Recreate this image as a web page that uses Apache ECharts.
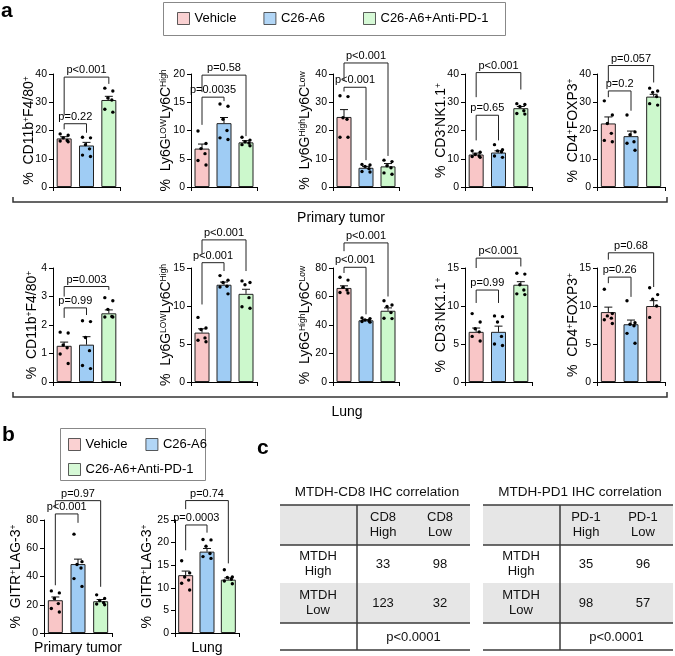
<!DOCTYPE html>
<html>
<head>
<meta charset="utf-8">
<script src="https://cdn.jsdelivr.net/npm/echarts@6/dist/echarts.min.js"></script>
<style>
html, body { margin: 0; padding: 0; background: #fff; }
#main { width: 675px; height: 656px; }
</style>
</head>
<body>
<div id="main"></div>
<script>
// groups + colours
const groups = ['Vehicle', 'C26-A6', 'C26-A6+Anti-PD-1'];
const groupColours = ['#F9C6C7', '#9FCCF4', '#CCF8CC'];
const font = "'Liberation Sans', Arial, sans-serif";

// ---- a: primary tumor ----
const ptCd11bMean = [17.2, 14.7, 30.8];
const ptCd11bSem = [0.6, 1.1, 1.3];
const ptCd11bDots = [[18.8, 18.3, 17.4, 16.5, 16.3, 16.0], [17.6, 17.4, 15.0, 13.5, 11.3, 10.8], [35.0, 34.0, 31.5, 30.8, 27.5, 26.5]];
const ptCd11bBrackets = [[0, 1, 22.4, 20.4, 19.2], [0, 2, 38.9, 25.3, 36.5]];
const ptCd11bP = ['p=0.22', 'p<0.001'];

const ptLy6cHighMean = [6.8, 11.3, 7.9];
const ptLy6cHighSem = [0.8, 1.0, 0.3];
const ptLy6cHighDots = [[9.9, 7.7, 6.8, 5.9, 4.7, 3.9], [14.7, 14.3, 12.0, 10.0, 8.7, 8.4], [8.8, 8.3, 8.0, 7.8, 7.5, 7.3]];
const ptLy6cHighBrackets = [[0, 1, 15.9, 11.0, 15.2], [0, 2, 19.8, 16.8, 9.0]];
const ptLy6cHighP = ['p=0.0035', 'p=0.58'];

const ptLy6cLowMean = [24.8, 6.8, 7.3];
const ptLy6cLowSem = [2.6, 0.5, 1.0];
const ptLy6cLowDots = [[32.3, 32.0, 24.5, 24.0, 17.6, 17.6], [8.0, 7.8, 7.3, 6.5, 5.5, 5.3], [9.5, 9.0, 7.5, 6.8, 5.0, 4.5]];
const ptLy6cLowBrackets = [[0, 1, 35.3, 33.8, 9.5], [0, 2, 43.9, 37.5, 11.0]];
const ptLy6cLowP = ['p<0.001', 'p<0.001'];

const ptNkMean = [11.5, 12.2, 27.9];
const ptNkSem = [0.5, 0.6, 0.6];
const ptNkDots = [[12.8, 12.3, 11.5, 11.0, 10.8, 10.5], [15.0, 13.2, 12.8, 12.5, 11.0, 10.5], [29.5, 29.2, 28.5, 27.0, 26.0, 25.8]];
const ptNkBrackets = [[0, 1, 25.4, 16.5, 16.5], [0, 2, 40.5, 31.8, 34.5]];
const ptNkP = ['p=0.65', 'p<0.001'];

const ptFoxp3Mean = [22.5, 18.0, 32.0];
const ptFoxp3Sem = [2.3, 1.8, 0.8];
const ptFoxp3Dots = [[30.5, 25.5, 22.5, 19.0, 16.5, 16.0], [25.5, 19.5, 18.5, 16.0, 15.5, 13.0], [35.0, 34.0, 33.5, 32.0, 29.5, 29.0]];
const ptFoxp3Brackets = [[0, 1, 34.0, 31.8, 27.0], [0, 2, 43.0, 37.0, 37.0]];
const ptFoxp3P = ['p=0.2', 'p=0.057'];

// ---- a: lung ----
const luCd11bMean = [1.27, 1.31, 2.41];
const luCd11bSem = [0.13, 0.28, 0.12];
const luCd11bDots = [[1.75, 1.72, 1.3, 1.2, 0.98, 0.65], [2.15, 2.12, 1.56, 1.1, 0.58, 0.47], [2.96, 2.85, 2.55, 2.3, 2.28, 2.28]];
const luCd11bBrackets = [[0, 1, 2.6, 2.25, 2.35], [0, 2, 3.35, 3.0, 3.23]];
const luCd11bP = ['p=0.99', 'p=0.003'];

const luLy6cHighMean = [6.5, 12.8, 11.6];
const luLy6cHighSem = [0.5, 0.35, 0.6];
const luLy6cHighDots = [[8.5, 7.1, 6.9, 5.8, 5.5, 5.3], [14.0, 13.4, 13.1, 12.6, 12.5, 11.6], [13.3, 13.1, 12.8, 11.1, 9.9, 9.7]];
const luLy6cHighBrackets = [[0, 1, 15.7, 10.2, 14.6], [0, 2, 18.7, 16.8, 14.6]];
const luLy6cHighP = ['p<0.001', 'p<0.001'];

const luLy6cLowMean = [66.0, 43.3, 50.0];
const luLy6cLowSem = [1.5, 0.5, 2.0];
const luLy6cLowDots = [[73.5, 71.5, 66.5, 64.5, 62.8, 62.5], [45.0, 44.5, 43.5, 43.0, 42.5, 42.0], [57.0, 54.0, 53.0, 48.7, 44.7, 44.5]];
const luLy6cLowBrackets = [[0, 1, 80.5, 76.5, 47.5], [0, 2, 97.6, 91.8, 60.0]];
const luLy6cLowP = ['p<0.001', 'p<0.001'];

const luNkMean = [6.6, 6.6, 12.8];
const luNkSem = [0.5, 0.75, 0.4];
const luNkDots = [[9.0, 7.9, 7.0, 6.6, 6.0, 5.4], [8.7, 8.6, 7.9, 6.0, 5.0, 4.8], [14.3, 14.2, 12.8, 12.1, 11.6, 11.5]];
const luNkBrackets = [[0, 1, 12.1, 10.4, 10.4], [0, 2, 16.3, 15.0, 15.2]];
const luNkP = ['p=0.99', 'p<0.001'];

const luFoxp3Mean = [9.2, 7.6, 10.0];
const luFoxp3Sem = [0.65, 0.55, 0.7];
const luFoxp3Dots = [[12.2, 9.0, 8.7, 8.4, 8.2, 7.7], [10.7, 7.8, 7.6, 7.4, 6.4, 5.1], [12.4, 11.5, 10.9, 10.0, 8.5]];
const luFoxp3Brackets = [[0, 1, 13.8, 13.0, 11.2], [0, 2, 17.0, 16.1, 12.5]];
const luFoxp3P = ['p=0.26', 'p=0.68'];

// ---- b ----
const gitrPtMean = [23.2, 48.8, 22.5];
const gitrPtSem = [2.3, 3.5, 1.2];
const gitrPtDots = [[29.8, 28.4, 24.4, 20.8, 17.3, 14.9], [70.0, 50.5, 48.5, 46.0, 38.5, 33.0], [27.0, 24.5, 23.0, 21.5, 20.5, 20.0]];
const gitrPtBrackets = [[0, 1, 84.3, 33.8, 78.0], [0, 2, 93.7, 88.3, 32.7]];
const gitrPtP = ['p<0.001', 'p=0.97'];

const gitrLuMean = [12.8, 18.0, 11.8];
const gitrLuSem = [0.9, 0.7, 0.4];
const gitrLuDots = [[16.0, 13.3, 12.4, 11.7, 11.0, 9.5], [20.7, 20.6, 19.2, 17.6, 16.9, 16.5], [14.0, 12.4, 12.3, 11.9, 11.5, 10.9]];
const gitrLuBrackets = [[0, 1, 23.9, 18.3, 22.2], [0, 2, 29.3, 27.4, 15.4]];
const gitrLuP = ['p=0.0003', 'p=0.74'];

// tick labels
const ticks40 = [0, 10, 20, 30, 40];
const ticks20 = [0, 5, 10, 15, 20];
const ticks15 = [0, 5, 10, 15];
const ticks4 = [0, 1, 2, 3, 4];
const ticks80 = [0, 20, 40, 60, 80];
const ticks25 = [0, 5, 10, 15, 20, 25];

// ---- c: tables ----
const rowHeads = ['MTDH\nHigh', 'MTDH\nLow'];
const cd8Title = 'MTDH-CD8 IHC correlation';
const cd8Heads = ['CD8\nHigh', 'CD8\nLow'];
const cd8Counts = [[33, 98], [123, 32]];
const cd8P = 'p<0.0001';
const pd1Title = 'MTDH-PD1 IHC correlation';
const pd1Heads = ['PD-1\nHigh', 'PD-1\nLow'];
const pd1Counts = [[35, 96], [98, 57]];
const pd1P = 'p<0.0001';

// dot spread (px), by rank within a group
const jitterPx = [-4, 4, -1, 3, -4, 4];

const lefts = [53, 191, 333, 465, 597];
const panels = [
  { name: '%  CD11b{s|+}F4/80{s|+}', mean: ptCd11bMean, sem: ptCd11bSem, dots: ptCd11bDots, br: ptCd11bBrackets, p: ptCd11bP, ticks: ticks40, left: lefts[0], top: 74, width: 67, height: 113, gap: 17 },
  { name: '%  Ly6G{s|LOW}Ly6C{s|High}', mean: ptLy6cHighMean, sem: ptLy6cHighSem, dots: ptLy6cHighDots, br: ptLy6cHighBrackets, p: ptLy6cHighP, ticks: ticks20, left: lefts[1], top: 74, width: 66, height: 113, gap: 18 },
  { name: '%  Ly6G{s|High}Ly6C{s|Low}', mean: ptLy6cLowMean, sem: ptLy6cLowSem, dots: ptLy6cLowDots, br: ptLy6cLowBrackets, p: ptLy6cLowP, ticks: ticks40, left: lefts[2], top: 74, width: 66, height: 113, gap: 21 },
  { name: '%  CD3{s|-}NK1.1{s|+}', mean: ptNkMean, sem: ptNkSem, dots: ptNkDots, br: ptNkBrackets, p: ptNkP, ticks: ticks40, left: lefts[3], top: 74, width: 67, height: 113, gap: 17 },
  { name: '%  CD4{s|+}FOXP3{s|+}', mean: ptFoxp3Mean, sem: ptFoxp3Sem, dots: ptFoxp3Dots, br: ptFoxp3Brackets, p: ptFoxp3P, ticks: ticks40, left: lefts[4], top: 74, width: 68, height: 113, gap: 17 },
  { name: '%  CD11b{s|+}F4/80{s|+}', mean: luCd11bMean, sem: luCd11bSem, dots: luCd11bDots, br: luCd11bBrackets, p: luCd11bP, ticks: ticks4, left: lefts[0], top: 268, width: 67, height: 114, gap: 14 },
  { name: '%  Ly6G{s|LOW}Ly6C{s|High}', mean: luLy6cHighMean, sem: luLy6cHighSem, dots: luLy6cHighDots, br: luLy6cHighBrackets, p: luLy6cHighP, ticks: ticks15, left: lefts[1], top: 268, width: 66, height: 114, gap: 18 },
  { name: '%  Ly6G{s|High}Ly6C{s|Low}', mean: luLy6cLowMean, sem: luLy6cLowSem, dots: luLy6cLowDots, br: luLy6cLowBrackets, p: luLy6cLowP, ticks: ticks80, left: lefts[2], top: 268, width: 66, height: 114, gap: 21 },
  { name: '%  CD3{s|-}NK1.1{s|+}', mean: luNkMean, sem: luNkSem, dots: luNkDots, br: luNkBrackets, p: luNkP, ticks: ticks15, left: lefts[3], top: 268, width: 67, height: 114, gap: 17 },
  { name: '%  CD4{s|+}FOXP3{s|+}', mean: luFoxp3Mean, sem: luFoxp3Sem, dots: luFoxp3Dots, br: luFoxp3Brackets, p: luFoxp3P, ticks: ticks15, left: lefts[4], top: 268, width: 68, height: 114, gap: 17, fills: [0, 1, 0] },
  { name: '%  GITR{s|+}LAG-3{s|+}', mean: gitrPtMean, sem: gitrPtSem, dots: gitrPtDots, br: gitrPtBrackets, p: gitrPtP, ticks: ticks80, left: 44, top: 520, width: 68, height: 113, gap: 21, xName: 'Primary tumor' },
  { name: '%  GITR{s|+}LAG-3{s|+}', mean: gitrLuMean, sem: gitrLuSem, dots: gitrLuDots, br: gitrLuBrackets, p: gitrLuP, ticks: ticks25, left: 175, top: 520, width: 64, height: 113, gap: 21, xName: 'Lung' }
];

function errorBarItem(params, api) {
  const x = api.value(0), m = api.value(1), s = api.value(2);
  const a = api.coord([x, m]), b = api.coord([x, m + s]);
  const style = { stroke: '#111', lineWidth: 1, fill: null };
  return { type: 'group', children: [
    { type: 'line', shape: { x1: a[0], y1: a[1], x2: b[0], y2: b[1] }, style: style },
    { type: 'line', shape: { x1: b[0] - 4, y1: b[1], x2: b[0] + 4, y2: b[1] }, style: style }
  ] };
}

function dotItem(params, api) {
  const c = api.coord([api.value(0), api.value(1)]);
  return { type: 'circle', shape: { cx: c[0] + jitterPx[api.value(2)], cy: c[1], r: 1.7 }, style: { fill: '#000' } };
}

function bracketRenderer(labels) {
  return function (params, api) {
    const x1 = api.coord([api.value(0), 0])[0];
    const x2 = api.coord([api.value(1), 0])[0];
    const yTop = api.coord([0, api.value(2)])[1];
    const yL = api.coord([0, api.value(3)])[1];
    const yR = api.coord([0, api.value(4)])[1];
    return { type: 'group', children: [
      { type: 'polyline', shape: { points: [[x1, yL], [x1, yTop], [x2, yTop], [x2, yR]] }, style: { stroke: '#222', lineWidth: 1, fill: null } },
      { type: 'text', x: (x1 + x2) / 2, y: yTop - 1.5, style: { text: labels[params.dataIndex], fill: '#000', fontSize: 11, fontFamily: font, align: 'center', verticalAlign: 'bottom', textAlign: 'center', textVerticalAlign: 'bottom' } }
    ] };
  };
}

const grid = [], xAxis = [], yAxis = [], series = [];
panels.forEach(function (pn, k) {
  const fills = pn.fills || [0, 1, 2];
  grid.push({ left: pn.left, top: pn.top, width: pn.width, height: pn.height });
  xAxis.push({
    type: 'category', gridIndex: k, data: groups,
    axisLine: { lineStyle: { color: '#000', width: 1 } },
    axisTick: { show: true, length: 4, lineStyle: { color: '#000' } },
    axisLabel: { show: false },
    name: pn.xName || '', nameLocation: 'middle', nameGap: 8, nameMoveOverlap: false,
    nameTextStyle: { fontSize: 14, color: '#000', fontFamily: font, verticalAlign: 'top' }
  });
  const t = pn.ticks;
  yAxis.push({
    type: 'value', gridIndex: k, min: t[0], max: t[t.length - 1], interval: t[1] - t[0],
    axisLine: { show: true, lineStyle: { color: '#000', width: 1 } },
    axisTick: { show: true, length: 4, lineStyle: { color: '#000' } },
    axisLabel: { fontSize: 10.5, color: '#000', fontFamily: font, margin: 6 },
    splitLine: { show: false },
    name: pn.name, nameLocation: 'middle', nameRotate: 90, nameGap: pn.gap, nameMoveOverlap: false,
    nameTextStyle: { fontSize: 14, color: '#000', fontFamily: font, rich: { s: { fontSize: 8.5, fontFamily: font, verticalAlign: 'top', color: '#000' } } }
  });
  series.push({
    type: 'bar', xAxisIndex: k, yAxisIndex: k, barWidth: 15, silent: true, z: 2,
    itemStyle: { borderColor: '#222', borderWidth: 1 },
    data: pn.mean.map(function (v, i) { return { value: v, itemStyle: { color: groupColours[fills[i]] } }; })
  });
  series.push({
    type: 'custom', xAxisIndex: k, yAxisIndex: k, silent: true, z: 3,
    renderItem: errorBarItem,
    data: pn.mean.map(function (v, i) { return [i, v, pn.sem[i]]; })
  });
  const dotData = [];
  pn.dots.forEach(function (arr, g) { arr.forEach(function (v, j) { dotData.push([g, v, j]); }); });
  series.push({ type: 'custom', xAxisIndex: k, yAxisIndex: k, silent: true, z: 4, renderItem: dotItem, data: dotData });
  series.push({ type: 'custom', xAxisIndex: k, yAxisIndex: k, silent: true, z: 4, renderItem: bracketRenderer(pn.p), data: pn.br });
});

// legend carriers (no data)
groups.forEach(function (g, i) {
  series.push({ type: 'scatter', name: g, xAxisIndex: 0, yAxisIndex: 0, data: [], itemStyle: { color: groupColours[i], borderColor: '#333', borderWidth: 1 } });
});

// table for panel c
function tableGraphics(x0, title, heads, counts, pText) {
  const w = 190, split = x0 + 77, right = x0 + w;
  const lineStyle = { stroke: '#3a3a3a', lineWidth: 1.5 };
  const txt = function (x, y, s, size) {
    return { type: 'text', x: x, y: y, style: { text: s, fill: '#111', fontSize: size || 13, lineHeight: 15, fontFamily: font, align: 'center', verticalAlign: 'middle', textAlign: 'center', textVerticalAlign: 'middle' } };
  };
  const els = [
    { type: 'rect', shape: { x: x0, y: 505, width: w, height: 40 }, style: { fill: '#E6E6E6' } },
    { type: 'rect', shape: { x: x0, y: 583, width: w, height: 40 }, style: { fill: '#E6E6E6' } },
    { type: 'line', shape: { x1: x0, y1: 505, x2: right, y2: 505 }, style: lineStyle },
    { type: 'line', shape: { x1: x0, y1: 545, x2: right, y2: 545 }, style: lineStyle },
    { type: 'line', shape: { x1: x0, y1: 623, x2: right, y2: 623 }, style: lineStyle },
    { type: 'line', shape: { x1: x0, y1: 650, x2: right, y2: 650 }, style: lineStyle },
    { type: 'line', shape: { x1: split, y1: 505, x2: split, y2: 650 }, style: lineStyle },
    txt(x0 + w / 2 + 2, 492, title, 13.5),
    txt(split + 26, 525, heads[0]),
    txt(split + 83, 525, heads[1]),
    txt(x0 + 38, 564, rowHeads[0]),
    txt(x0 + 38, 603, rowHeads[1]),
    txt(split + 26, 564, String(counts[0][0])),
    txt(split + 83, 564, String(counts[0][1])),
    txt(split + 26, 603, String(counts[1][0])),
    txt(split + 83, 603, String(counts[1][1])),
    txt((split + right) / 2, 637, pText)
  ];
  els.forEach(function (e) { e.z = 10; });
  return els;
}

const letter = function (x, y, s) {
  return { type: 'text', x: x, y: y, style: { text: s, fill: '#000', font: 'bold 21px ' + font } };
};
const plain = function (x, y, s) {
  return { type: 'text', x: x, y: y, style: { text: s, fill: '#000', fontSize: 14, fontFamily: font, align: 'center', verticalAlign: 'middle', textAlign: 'center', textVerticalAlign: 'middle' } };
};
const frame = { stroke: '#333', lineWidth: 1.5, fill: null };
const boxStyle = { fill: null, stroke: '#888', lineWidth: 1 };

const graphic = [
  letter(1, 1, 'a'),
  letter(2, 425, 'b'),
  letter(257, 438, 'c'),
  { type: 'rect', shape: { x: 163.5, y: 2.5, width: 342, height: 33 }, style: boxStyle },
  { type: 'polyline', shape: { points: [[13, 197], [13, 202], [667, 202], [667, 197]] }, style: frame },
  plain(341, 218, 'Primary tumor'),
  { type: 'polyline', shape: { points: [[13, 392], [13, 397], [667, 397], [667, 392]] }, style: frame },
  plain(347, 412, 'Lung'),
  { type: 'rect', shape: { x: 60.5, y: 428.5, width: 145, height: 52 }, style: boxStyle }
].concat(tableGraphics(280, cd8Title, cd8Heads, cd8Counts, cd8P))
 .concat(tableGraphics(483, pd1Title, pd1Heads, pd1Counts, pd1P));

const legendBase = {
  icon: 'rect', itemWidth: 12, itemHeight: 12, selectedMode: false, padding: 0,
  itemStyle: { borderColor: '#333', borderWidth: 1 },
  textStyle: { fontSize: 13, color: '#000', fontFamily: font }
};

const option = {
  animation: false,
  backgroundColor: '#fff',
  grid: grid, xAxis: xAxis, yAxis: yAxis, series: series,
  legend: [
    Object.assign({}, legendBase, { data: [groups[0], groups[1]], left: 177, top: 12, itemGap: 27 }),
    Object.assign({}, legendBase, { data: [groups[2]], left: 363, top: 12 }),
    Object.assign({}, legendBase, { data: [groups[0], groups[1]], left: 68, top: 438, itemGap: 18 }),
    Object.assign({}, legendBase, { data: [groups[2]], left: 68, top: 463 })
  ],
  graphic: graphic
};

const chart = echarts.init(document.getElementById('main'));
chart.setOption(option);
</script>
</body>
</html>
